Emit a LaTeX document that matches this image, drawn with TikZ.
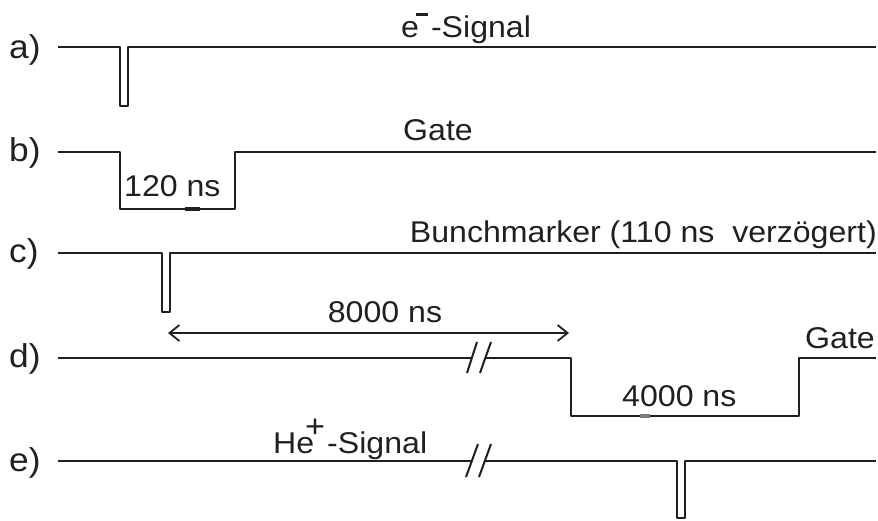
\documentclass[tikz,border=0pt]{standalone}
\usepackage{fontspec}
\setmainfont{Liberation Sans}[FakeStretch=1.07]
\usetikzlibrary{arrows.meta}
\definecolor{ink}{RGB}{35,31,32}
\begin{document}
\begin{tikzpicture}[x=1pt,y=-1pt,
  sig/.style={line width=2pt, draw=ink, line join=round},
  brk/.style={line width=2pt, draw=ink},
  lbl/.style={inner sep=0pt, anchor=base west, font=\fontsize{33}{35}\selectfont, text=ink},
  txt/.style={inner sep=0pt, font=\fontsize{30}{32}\selectfont, text=ink}]
\useasboundingbox (0,0) rectangle (878,520);
% row labels
\node[lbl] (la) at (9,58) {a)};
\node[lbl] (lb) at (9,161) {b)};
\node[lbl] (lc) at (9,262) {c)};
\node[lbl] (ld) at (9,367) {d)};
\node[lbl] (le) at (9,471) {e)};
% a) electron signal
\draw[sig] (58,47) -| (120,106) -| (128,47) -- (876,47);
\node[txt, anchor=base west] (ta) at (401,37) {e\kern-3pt\rule[21pt]{12pt}{3pt}\kern3pt-Signal};
% b) gate
\draw[sig] (58,152) -| (120,209) -| (235,152) -- (876,152);
\draw[ink, line width=3.5pt] (185,209) -- (200,209);
\node[txt, anchor=base west] (tb) at (403,140) {Gate};
\node[txt, anchor=base west] (tw) at (124,196) {120 ns};
% c) bunchmarker
\draw[sig] (58,253) -| (162,312) -| (170,253) -- (876,253);
\node[txt, anchor=base east] (tc) at (877,242) {Bunchmarker (110 ns\ \ verzögert)};
% delay arrow
\coordinate (aL) at (168,333);
\coordinate (aR) at (569,333);
\draw[ink, line width=1.8pt, {Straight Barb[length=10pt,width=16pt]}-{Straight Barb[length=10pt,width=16pt]}] (aL) -- (aR);
\node[txt, anchor=base] (t8) at (385,322) {8000 ns};
% d) long gate
\draw[sig] (58,358) -- (472,358);
\draw[sig] (485,358) -| (571,416) -| (799,358) -- (876,358);
\draw[brk] (467,373) -- (477,342);
\draw[brk] (480,373) -- (491,342);
\draw[ink!60, line width=3.5pt] (640,416) -- (650,416);
\node[txt, anchor=base east] (td) at (875,348) {Gate};
\node[txt, anchor=base west] (t4) at (622,406) {4000 ns};
% e) He+ signal
\draw[sig] (58,461) -- (472,461);
\draw[sig] (485,461) -| (677,518) -| (685,461) -- (876,461);
\draw[brk] (466,477) -- (478,444);
\draw[brk] (479,477) -- (491,444);
\node[txt, anchor=base west] (te) at (273,453) {He\kern-9pt\raisebox{16pt}{\fontsize{32}{32}\selectfont +}\kern2pt-Signal};
\end{tikzpicture}
\end{document}
